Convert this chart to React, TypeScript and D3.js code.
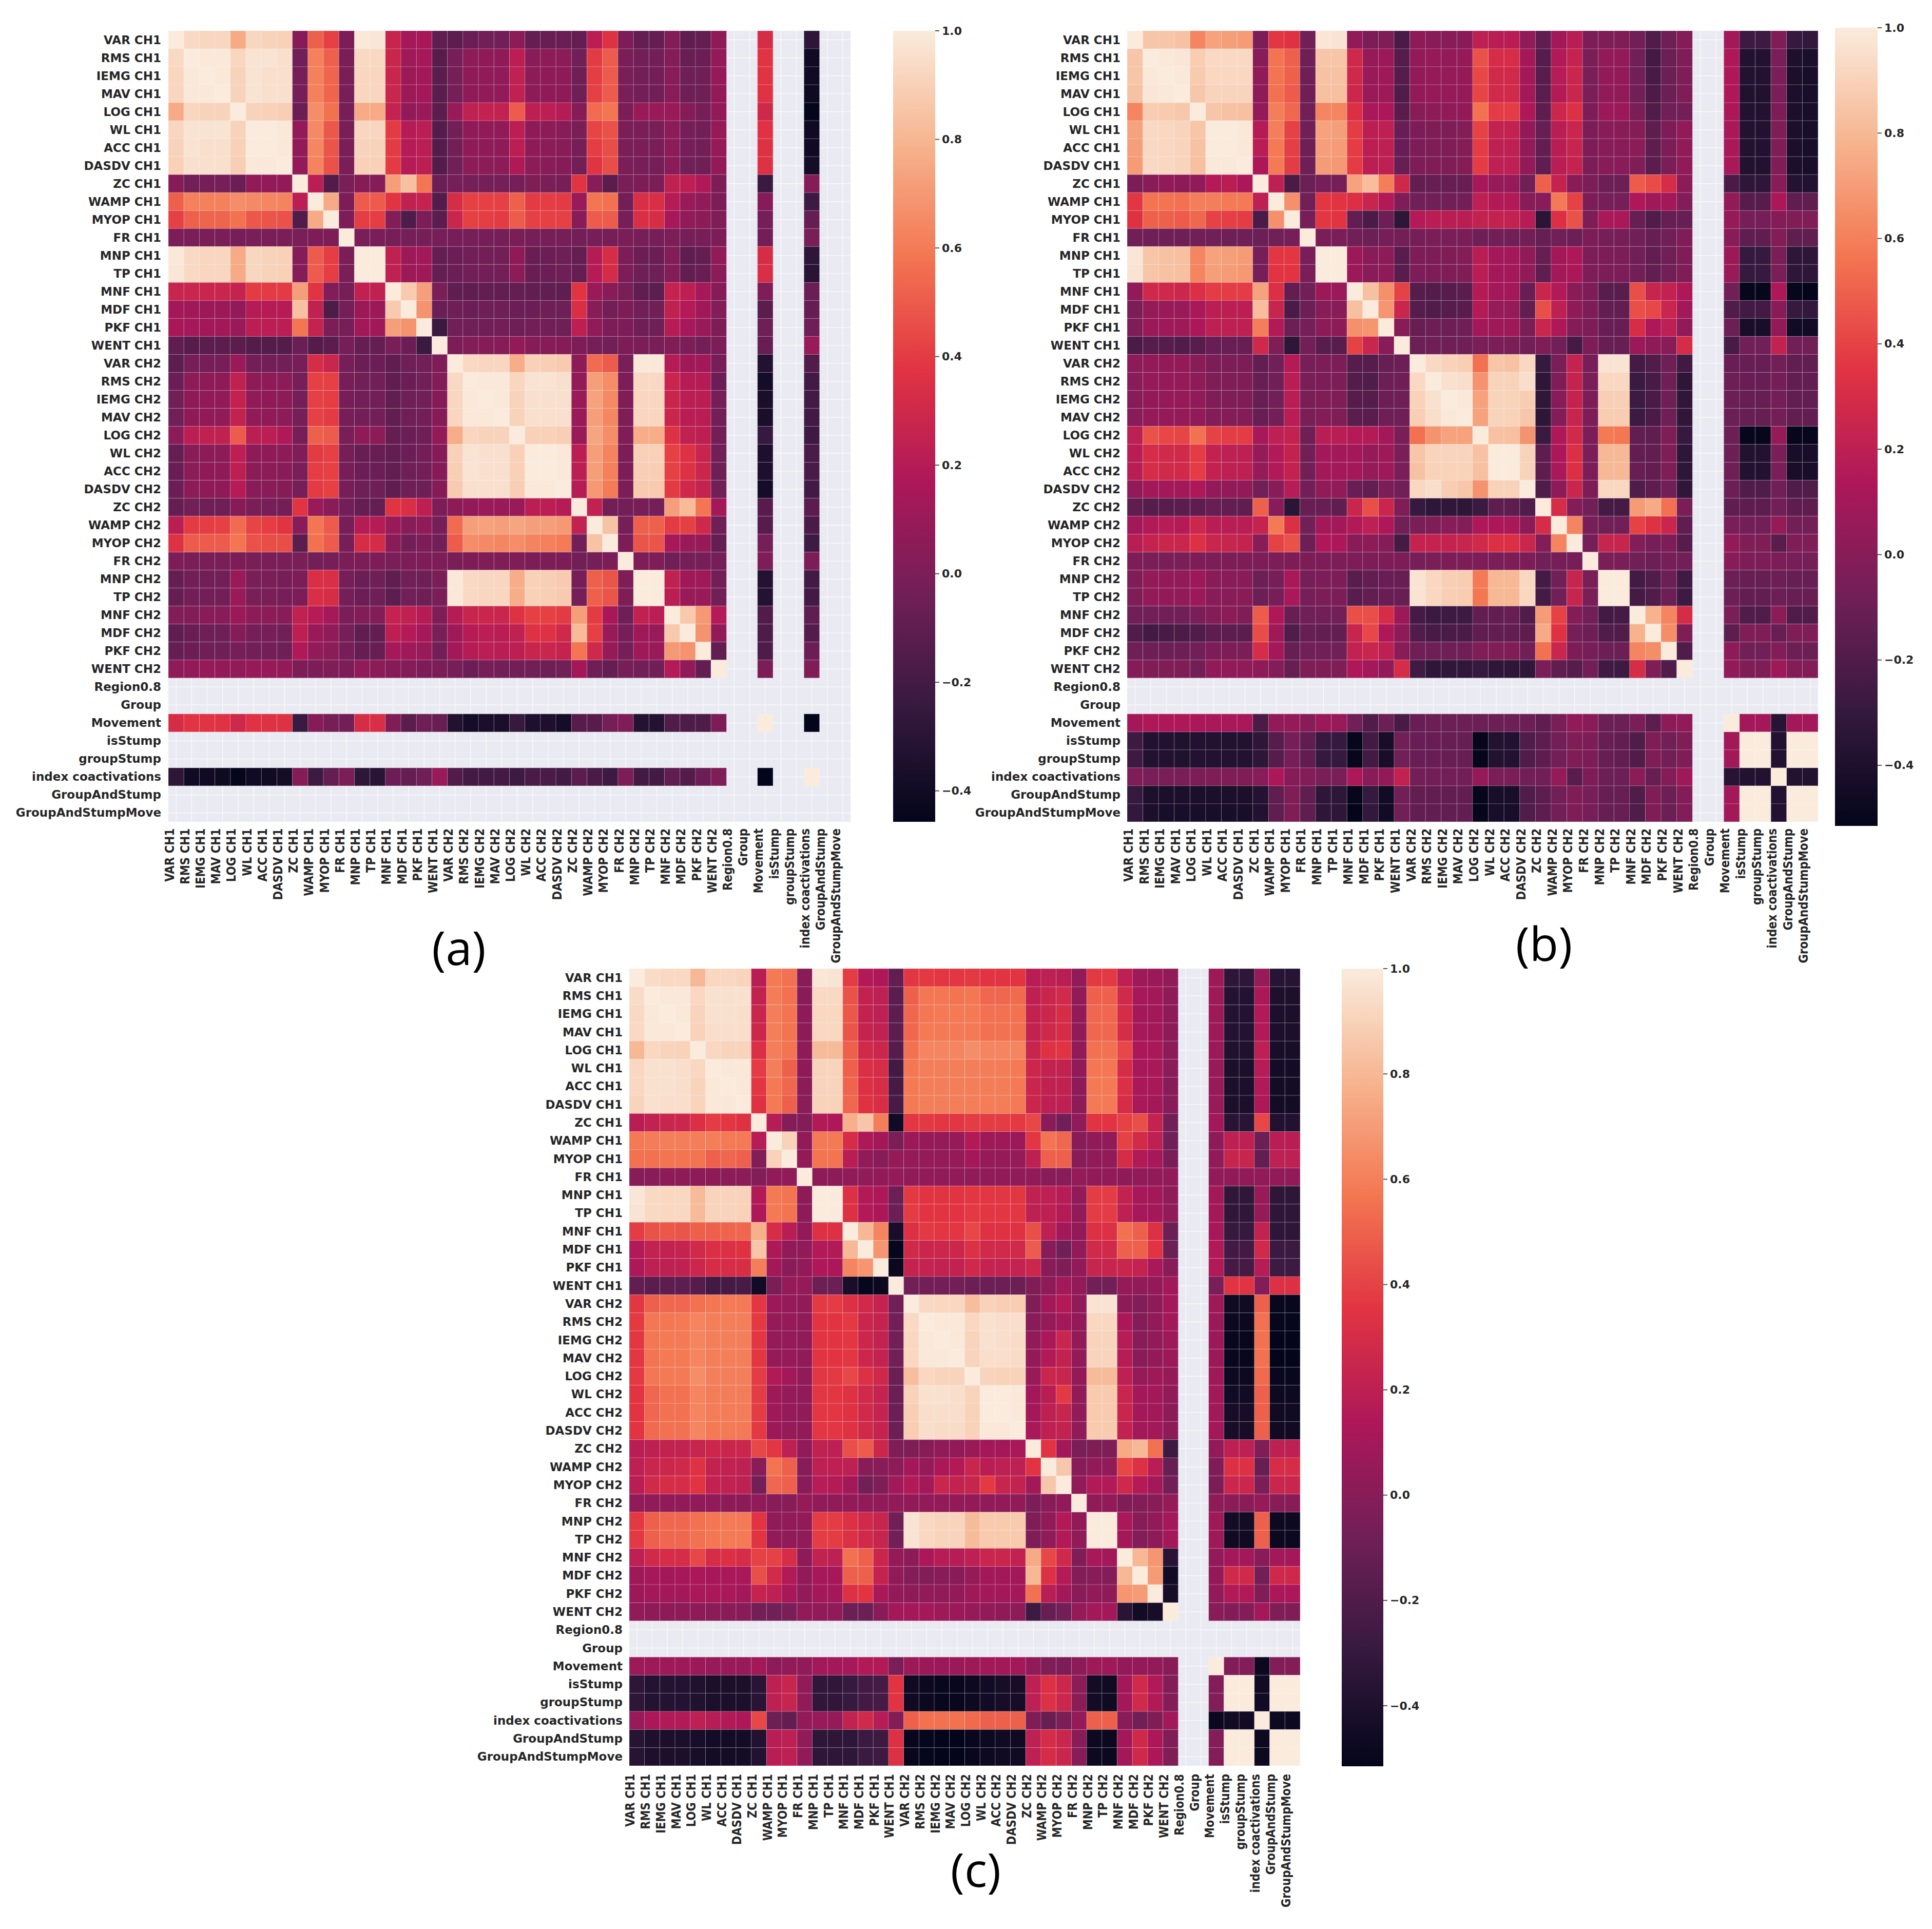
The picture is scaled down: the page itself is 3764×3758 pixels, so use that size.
import React from "react";
import * as d3 from "d3";

const labels = ["VAR CH1","RMS CH1","IEMG CH1","MAV CH1","LOG CH1","WL CH1","ACC CH1","DASDV CH1","ZC CH1","WAMP CH1","MYOP CH1","FR CH1","MNP CH1","TP CH1","MNF CH1","MDF CH1","PKF CH1","WENT CH1","VAR CH2","RMS CH2","IEMG CH2","MAV CH2","LOG CH2","WL CH2","ACC CH2","DASDV CH2","ZC CH2","WAMP CH2","MYOP CH2","FR CH2","MNP CH2","TP CH2","MNF CH2","MDF CH2","PKF CH2","WENT CH2","Region0.8","Group","Movement","isStump","groupStump","index coactivations","GroupAndStump","GroupAndStumpMove"];

const _ = null;
// Lower triangles of the correlation matrices, in hundredths.
const rowsA = [
[100],
[93,100],
[92,99,100],
[92,99,99,100],
[76,92,91,91,100],
[92,97,97,97,91,100],
[91,97,96,96,90,100,100],
[90,96,96,96,89,99,99,100],
[3,-4,-2,-2,-6,8,8,8,100],
[52,62,62,62,66,65,64,63,22,100],
[42,52,53,53,57,49,48,47,-15,76,100],
[0,-1,-1,-1,-2,-1,-1,-1,-1,0,0,100],
[99,93,92,92,76,92,91,90,3,50,41,-1,100],
[98,93,92,92,76,92,91,90,3,50,41,-1,100,100],
[27,28,28,28,26,40,40,40,72,38,2,-2,24,24,100],
[13,12,11,11,8,20,20,20,84,24,-16,-2,11,11,88,100],
[15,14,13,13,10,22,22,22,58,26,0,-2,13,12,72,68,100],
[-10,-13,-12,-12,-12,-14,-14,-14,-6,-14,-12,-2,-8,-8,-1,-6,-23,100],
[-11,-2,-2,-2,10,-3,-3,-4,-2,33,28,-2,-6,-6,-10,-5,-4,0,100],
[-6,5,6,6,24,6,6,5,-2,42,42,-2,-4,-4,-10,-6,-4,2,93,100],
[-4,6,7,7,25,7,6,5,-2,42,41,-2,-3,-3,-9,-5,-4,3,92,99,100],
[-4,6,7,7,25,7,6,5,-2,42,40,-2,-3,-3,-9,-5,-3,3,92,99,99,100],
[5,22,24,24,50,22,22,18,-2,52,50,-1,6,5,-8,-6,-5,8,77,92,91,91,100],
[-8,4,5,5,23,6,6,5,1,40,42,-2,-7,-7,-9,-6,-3,3,90,97,96,96,90,100],
[-7,5,6,6,23,5,5,4,-1,41,42,-2,-6,-6,-9,-5,-3,3,89,97,96,96,90,100,100],
[-6,5,6,6,20,4,4,3,-2,40,42,-2,-5,-5,-10,-5,-5,3,88,96,96,96,89,99,99,100],
[-8,-4,-5,-5,3,-1,-2,-3,38,10,4,-3,-8,-8,38,34,23,0,5,8,10,10,10,22,22,20,100],
[22,40,41,42,55,43,41,38,4,58,50,-2,20,20,10,4,7,-2,55,72,73,72,74,72,72,70,25,100],
[36,50,50,50,58,47,46,46,-12,57,50,-2,33,32,4,-3,0,-3,50,66,65,64,66,63,62,60,-3,85,100],
[0,-1,-1,-1,0,-1,-1,-1,-1,-3,-2,-1,0,0,-1,0,0,0,-1,0,1,1,1,0,0,0,-3,-2,0,100],
[-8,-3,-3,-3,10,-1,-1,-2,0,34,34,-2,-6,-5,-10,-4,-5,-1,99,93,92,92,77,90,89,88,-2,52,48,1,100],
[-8,-3,-3,-3,10,-1,-1,-2,0,34,33,-2,-6,-5,-11,-4,-5,-1,99,93,92,92,77,90,89,88,-2,52,48,1,100,100],
[2,2,4,4,10,5,5,4,24,20,14,-1,2,2,26,24,20,1,20,27,28,28,36,42,42,40,72,40,15,-5,24,22,100],
[-10,-7,-5,-5,3,-2,-2,-4,23,10,7,-2,-10,-9,23,19,14,-1,12,20,22,21,24,36,36,30,82,42,10,-2,12,10,87,100],
[-8,-6,-5,-5,-2,-3,-3,-5,18,7,5,-2,-8,-7,14,12,10,-3,13,20,22,21,23,27,28,26,58,30,9,-2,12,10,70,68,100],
[6,8,9,8,8,9,9,8,0,0,1,0,7,5,3,2,0,0,-2,-6,-2,-3,-3,-4,-5,-4,13,-5,-8,-2,-3,-4,19,7,-9,100],
[],
[],
[33,38,38,37,30,37,36,36,-23,3,-2,-3,33,34,1,-12,-5,-7,-33,-38,-36,-36,-25,-35,-35,-38,-13,-13,-2,1,-32,-32,-15,-16,-16,0,_,_,100],
[],
[],
[-28,-40,-40,-41,-45,-40,-40,-38,3,-22,-8,-1,-28,-30,-6,-8,-5,10,-15,-20,-20,-20,-22,-18,-18,-20,-12,-18,-22,0,-20,-20,-10,-14,-6,1,_,_,-46,_,_,100],
[],
[],
];

const rowsB = [
[100],
[85,100],
[85,99,100],
[84,98,99,100],
[62,88,87,86,100],
[72,93,92,91,85,100],
[71,93,92,91,84,100,100],
[70,93,92,91,83,99,99,100],
[-4,0,3,2,4,16,18,13,100],
[36,56,56,55,60,60,58,58,20,100],
[34,50,50,48,52,40,39,38,-22,66,100],
[-8,-9,-9,-9,-8,-8,-9,-9,-10,-8,-6,100],
[98,85,84,83,62,72,71,70,-6,36,36,-5,100],
[97,85,84,83,62,71,70,69,-6,35,35,-5,100,100],
[3,27,27,26,32,38,38,38,72,32,-13,-8,7,7,100],
[-4,5,6,6,12,19,19,19,82,24,-22,-10,0,0,83,100],
[-3,7,8,8,13,20,20,20,60,15,-10,-6,2,2,66,68,100],
[-22,-18,-18,-20,-17,-11,-11,-12,27,-3,-33,-7,-17,-17,40,25,0,100],
[2,4,4,4,0,-4,-4,-4,-13,-8,16,-6,-4,-4,-18,-18,-12,-10,100],
[0,5,5,5,2,-3,-3,-3,-12,-8,18,-5,-4,-4,-19,-20,-10,-9,93,100],
[0,4,5,5,3,-3,-3,-3,-12,-8,18,-5,-3,-3,-18,-18,-10,-9,90,96,100],
[0,5,5,5,3,-2,-2,-2,-12,-7,18,-5,-2,-3,-16,-17,-9,-9,89,95,99,100],
[20,45,42,41,55,40,38,38,11,20,22,-9,18,18,16,16,10,-5,55,67,72,72,100],
[18,30,28,28,38,22,20,20,5,15,22,-8,10,10,10,5,8,-5,85,91,91,91,84,100],
[18,30,28,28,38,22,20,20,5,15,22,-8,10,10,10,5,8,-5,84,90,90,90,83,100,100],
[3,10,10,10,14,4,4,4,-8,0,17,-7,3,3,-11,-13,-5,-7,92,95,88,86,67,90,90,100],
[-14,-18,-17,-16,-15,-12,-13,-14,50,0,-34,-12,-12,-14,25,44,25,-3,-30,-33,-32,-33,-28,-15,-15,-20,100],
[10,15,17,16,26,18,18,18,23,58,32,-8,10,10,15,20,14,-8,-5,-3,0,-2,14,13,12,2,30,100],
[18,23,25,25,33,25,24,23,0,40,45,-10,14,13,0,2,-2,-24,23,23,23,24,28,32,32,25,-2,62,100],
[-4,-5,-5,-5,-4,-4,-4,-4,-4,-4,-4,-4,-4,-4,-4,-4,-4,-4,-6,-5,-4,-4,-4,-5,-4,-4,-8,-6,-6,100],
[-3,4,4,3,7,0,0,0,-10,-6,12,-6,-4,-4,-17,-13,-11,-12,97,92,89,88,58,80,80,92,-24,-8,24,-5,100],
[-3,4,4,3,7,0,0,0,-10,-6,12,-6,-4,-4,-17,-13,-11,-12,97,92,89,88,57,80,80,92,-24,-8,24,-5,100,100],
[-8,-8,-8,-8,-5,-1,1,-3,48,14,-12,-8,-8,-7,44,44,30,7,-24,-28,-27,-27,-13,-13,-12,-20,70,40,-2,-8,-25,-24,100],
[-20,-25,-23,-21,-20,-15,-15,-16,43,8,-20,-12,-13,-13,24,42,14,2,-20,-23,-22,-22,-14,-13,-13,-15,75,34,-6,-10,-20,-20,78,100],
[-9,-10,-10,-10,-8,-4,-4,-5,30,10,-12,-8,-8,-8,22,25,20,0,-9,-9,-9,-9,-3,-3,-3,-8,55,25,-4,-6,-10,-10,62,65,100],
[-1,-3,-3,-3,-7,3,3,3,2,-2,-12,-3,-3,-3,14,10,3,30,-26,-33,-32,-32,-30,-33,-33,-32,-5,-14,-18,-7,-26,-27,30,-3,-20,100],
[],
[],
[10,14,14,14,13,12,12,12,-22,3,5,0,7,6,-8,-20,-10,-23,-11,-10,-10,-10,-10,-10,-9,-10,-14,-5,3,0,-10,-10,-5,-15,2,3,_,_,100],
[-27,-38,-38,-39,-38,-38,-38,-38,-33,-18,-6,-14,-30,-30,-50,-25,-42,-8,-11,-11,-12,-12,-50,-38,-38,-20,-15,-7,-3,-4,-12,-13,-20,-3,-8,-3,_,_,10,100],
[-27,-38,-38,-39,-38,-38,-38,-38,-33,-18,-6,-14,-30,-30,-50,-25,-42,-8,-11,-11,-12,-12,-50,-38,-38,-20,-15,-7,-3,-4,-12,-13,-20,-3,-8,-3,_,_,10,100,100],
[-3,-5,-5,-5,-4,-3,-3,-3,0,13,-1,-2,-5,-5,14,0,4,22,-7,-7,-7,-7,5,-5,-5,-8,-8,5,-17,-4,-10,-10,1,-12,-2,8,_,_,-36,-38,-38,100],
[-30,-40,-41,-41,-41,-41,-41,-41,-37,-14,-3,-14,-33,-33,-50,-30,-45,-8,-13,-13,-13,-13,-50,-42,-42,-20,-15,-7,-3,-6,-12,-12,-20,-3,-10,-2,_,_,10,100,100,-38,100],
[-31,-41,-42,-42,-42,-42,-42,-42,-38,-14,-3,-14,-33,-33,-51,-31,-45,-8,-13,-13,-13,-13,-50,-42,-42,-20,-15,-7,-3,-6,-12,-12,-20,-3,-10,-2,_,_,10,100,100,-38,100,100],
];

const rowsC = [
[100],
[94,100],
[93,99,100],
[93,99,99,100],
[80,92,91,90,100],
[92,96,96,95,92,100],
[92,96,96,95,91,99,100],
[91,96,95,95,91,99,99,100],
[18,22,25,26,32,38,36,34,100],
[58,59,60,60,60,60,58,58,17,100],
[55,55,56,56,56,50,52,50,-2,90,100],
[0,0,2,2,2,2,1,1,-2,3,3,100],
[98,93,92,92,81,91,91,90,15,58,56,2,100],
[97,93,92,92,81,91,91,90,14,58,56,2,100,100],
[38,45,47,46,50,50,51,52,77,30,18,3,33,33,100],
[15,22,22,23,28,32,33,34,85,14,3,3,15,15,80,100],
[14,20,20,21,26,30,30,31,60,10,0,4,14,13,62,68,100],
[-13,-16,-15,-15,-18,-25,-24,-23,-45,-5,5,5,-10,-10,-42,-50,-48,100],
[36,50,52,52,55,57,58,58,36,7,5,3,37,38,33,28,23,-8,100],
[37,57,57,58,62,60,60,60,37,5,5,3,35,35,37,25,23,-7,93,100],
[36,57,58,58,62,60,60,60,36,5,5,3,35,35,36,26,22,-7,92,99,100],
[36,56,58,58,62,60,60,60,36,5,5,3,35,35,36,26,22,-7,92,99,99,100],
[37,57,58,58,65,60,60,60,38,15,10,3,36,37,42,33,27,-10,82,92,91,91,100],
[35,52,55,55,62,59,59,59,38,8,5,3,36,36,34,28,23,-10,90,96,96,95,91,100],
[35,52,55,55,62,59,59,59,38,8,5,3,36,36,34,28,23,-10,89,95,95,95,90,100,100],
[35,53,55,55,62,58,58,58,37,7,5,3,36,36,34,28,23,-10,88,95,94,94,90,99,99,100],
[18,20,22,22,24,26,25,25,42,36,20,3,21,20,44,48,26,-3,-3,0,3,4,6,10,10,12,100],
[20,25,26,27,34,22,21,20,0,56,50,0,20,20,20,0,0,2,10,5,13,15,25,18,20,20,35,100],
[18,28,30,30,35,22,21,20,-7,52,50,0,17,16,10,-8,-3,9,15,10,25,22,24,37,24,22,10,86,100],
[3,3,3,3,3,3,2,2,3,0,0,5,3,3,4,3,3,4,3,4,4,4,4,3,3,3,-5,0,3,100],
[37,50,52,52,55,57,58,58,35,3,3,3,38,38,33,28,24,-8,97,92,91,91,81,87,87,87,-3,3,15,3,100],
[37,50,52,52,55,57,58,58,35,3,3,3,38,38,33,28,24,-8,97,92,91,91,81,87,87,87,-3,3,15,3,100,100],
[20,28,30,30,42,30,32,30,40,40,30,2,22,20,55,50,25,5,2,13,17,17,20,25,25,22,75,42,27,-3,12,10,100],
[8,11,10,11,13,11,12,12,44,29,15,3,11,11,50,50,23,3,-2,-2,0,0,5,10,10,10,80,33,16,-2,0,-2,80,100],
[7,10,10,10,12,12,12,10,23,20,11,3,10,10,33,35,12,4,2,3,3,4,8,10,10,10,55,18,10,0,3,2,68,70,100],
[3,2,2,2,2,1,0,0,-7,-8,-5,3,3,3,-10,-10,0,10,10,10,8,7,5,3,2,2,-27,-12,-8,5,10,10,-35,-45,-43,100],
[],
[],
[8,8,8,8,7,6,6,6,10,2,3,3,10,10,11,15,15,-5,8,7,7,7,8,9,9,10,3,-3,-4,2,8,8,4,4,4,0,_,_,100],
[-33,-37,-37,-37,-39,-41,-41,-41,-35,20,24,3,-32,-32,-30,-25,-24,35,-46,-48,-49,-49,-47,-45,-43,-43,20,33,26,1,-44,-46,10,28,15,-2,_,_,-2,100],
[-33,-37,-37,-37,-39,-41,-41,-41,-35,20,24,3,-32,-32,-30,-25,-24,35,-46,-48,-49,-49,-47,-45,-43,-43,20,33,26,1,-44,-46,10,28,15,-2,_,_,-2,100,100],
[6,13,15,15,20,17,15,14,42,-10,-13,3,6,5,22,28,17,-2,50,55,55,55,53,50,50,50,-3,-12,-5,5,50,50,0,-7,-3,10,_,_,-48,-45,-45,100],
[-36,-40,-41,-41,-42,-44,-44,-44,-38,18,20,3,-33,-33,-33,-28,-27,33,-49,-50,-51,-51,-49,-47,-46,-46,20,30,25,0,-47,-48,10,27,13,-3,_,_,-2,100,100,-47,100],
[-36,-40,-41,-41,-42,-44,-44,-44,-38,18,20,3,-33,-33,-33,-28,-27,33,-49,-50,-51,-51,-49,-47,-46,-46,20,30,25,0,-47,-48,10,27,13,-3,_,_,-2,100,100,-47,100,100],
];

const ticksA = [1, 0.8, 0.6, 0.4, 0.2, 0, -0.2, -0.4];
const rocketStops = ["#03051a","#35193e","#701f57","#ad1759","#e13342","#f37651","#f6b48f","#faebdd"];

const rocket = d3.scaleLinear<string>()
  .domain(rocketStops.map((_s, i) => i / 7))
  .range(rocketStops)
  .interpolate(d3.interpolateRgb);

const panels = [
  { id: "a", rows: rowsA, x0: 328, x1: 1657, y0: 60, y1: 1601, vmin: -0.457, barX: 1740, barW: 82, barTop: 60, barBot: 1601, labelRight: 314, xLabelTop: 1614, xAlong: 0.97, xAcross: 1.1, tag: "(a)", tagX: 894, tagY: 1880 },
  { id: "b", rows: rowsB, x0: 2196, x1: 3542, y0: 60, y1: 1601, vmin: -0.515, barX: 3575, barW: 83, barTop: 54, barBot: 1609, labelRight: 2183, xLabelTop: 1614, xAlong: 0.97, xAcross: 1.15, tag: "(b)", tagX: 3008, tagY: 1872 },
  { id: "c", rows: rowsC, x0: 1226, x1: 2533, y0: 1887, y1: 3440, vmin: -0.515, barX: 2614, barW: 81, barTop: 1887, barBot: 3441, labelRight: 1213, xLabelTop: 3456, xAlong: 0.96, xAcross: 1.12, tag: "(c)", tagX: 1901, tagY: 3676 },
];

const font = "'DejaVu Sans', sans-serif";
const textCol = "#262626";
const xLabelShift = -13;

function Panel({ p }: { p: (typeof panels)[number] }) {
  const n = labels.length;
  const idx = d3.range(n);
  const x = d3.scaleBand<number>().domain(idx).range([p.x0, p.x1]);
  const y = d3.scaleBand<number>().domain(idx).range([p.y0, p.y1]);
  const val = (i: number, j: number) => {
    const a = Math.max(i, j), b = Math.min(i, j);
    const v = p.rows[a][b];
    return v === undefined || v === null ? null : v / 100;
  };
  const tScale = d3.scaleLinear().domain([p.vmin, 1]).range([0, 1]).clamp(true);
  const color = (v: number) => rocket(tScale(v));
  const barY = d3.scaleLinear().domain([p.vmin, 1]).range([p.barBot, p.barTop]);
  return (
    <g>
      <defs>
        <linearGradient id={"bar" + p.id} x1="0" y1="1" x2="0" y2="0">
          {rocketStops.map((c, i) => (
            <stop key={i} offset={i / 7} stopColor={c} />
          ))}
        </linearGradient>
      </defs>
      <rect x={p.x0} y={p.y0} width={p.x1 - p.x0} height={p.y1 - p.y0} fill="#eaeaf2" />
      {idx.map((i) => (
        <g key={"g" + i}>
          <line x1={x(i)! + x.bandwidth() / 2} x2={x(i)! + x.bandwidth() / 2} y1={p.y0} y2={p.y1} stroke="#fff" strokeOpacity={0.65} strokeWidth={1.5} />
          <line y1={y(i)! + y.bandwidth() / 2} y2={y(i)! + y.bandwidth() / 2} x1={p.x0} x2={p.x1} stroke="#fff" strokeOpacity={0.65} strokeWidth={1.5} />
        </g>
      ))}
      {idx.map((i) =>
        idx.map((j) => {
          const v = val(i, j);
          if (v === null) return null;
          return (
            <rect key={i + "-" + j} x={x(j)} y={y(i)} width={x.bandwidth()} height={y.bandwidth()} fill={color(v)} stroke="#fff" strokeOpacity={0.22} strokeWidth={1} />
          );
        })
      )}
      {labels.map((l, i) => (
        <text key={"yl" + i} x={p.labelRight} y={y(i)! + y.bandwidth() / 2} textAnchor="end" dominantBaseline="central" fontFamily={font} fontWeight="bold" fontSize={23} fill={textCol}>{l}</text>
      ))}
      {labels.map((l, i) => (
        <text key={"xl" + i} transform={`translate(${x(i)! + x.bandwidth() / 2 + xLabelShift},${p.xLabelTop}) rotate(-90) scale(${p.xAlong},${p.xAcross})`} textAnchor="end" dominantBaseline="central" fontFamily={font} fontWeight="bold" fontSize={22} fill={textCol}>{l}</text>
      ))}
      <rect x={p.barX} y={p.barTop} width={p.barW} height={p.barBot - p.barTop} fill={`url(#bar${p.id})`} />
      {ticksA.map((t) => (
        <g key={"t" + t}>
          <line x1={p.barX + p.barW} x2={p.barX + p.barW + 8} y1={barY(t)} y2={barY(t)} stroke="#555" strokeWidth={2} />
          <text x={p.barX + p.barW + 13} y={barY(t)} dominantBaseline="central" fontFamily={font} fontWeight="bold" fontSize={22} fill={textCol}>{t < 0 ? "\u2212" + d3.format(".1f")(-t) : d3.format(".1f")(t)}</text>
        </g>
      ))}
      <text x={p.tagX} y={p.tagY} textAnchor="middle" fontFamily="'Open Sans', sans-serif" fontSize={92} fill="#000">{p.tag}</text>
    </g>
  );
}

export default function App() {
  return (
    <svg width={3764} height={3758} viewBox="0 0 3764 3758" style={{ position: "absolute", left: 0, top: 0, background: "#fff" }}>
      {panels.map((p) => (
        <Panel key={p.id} p={p} />
      ))}
    </svg>
  );
}
